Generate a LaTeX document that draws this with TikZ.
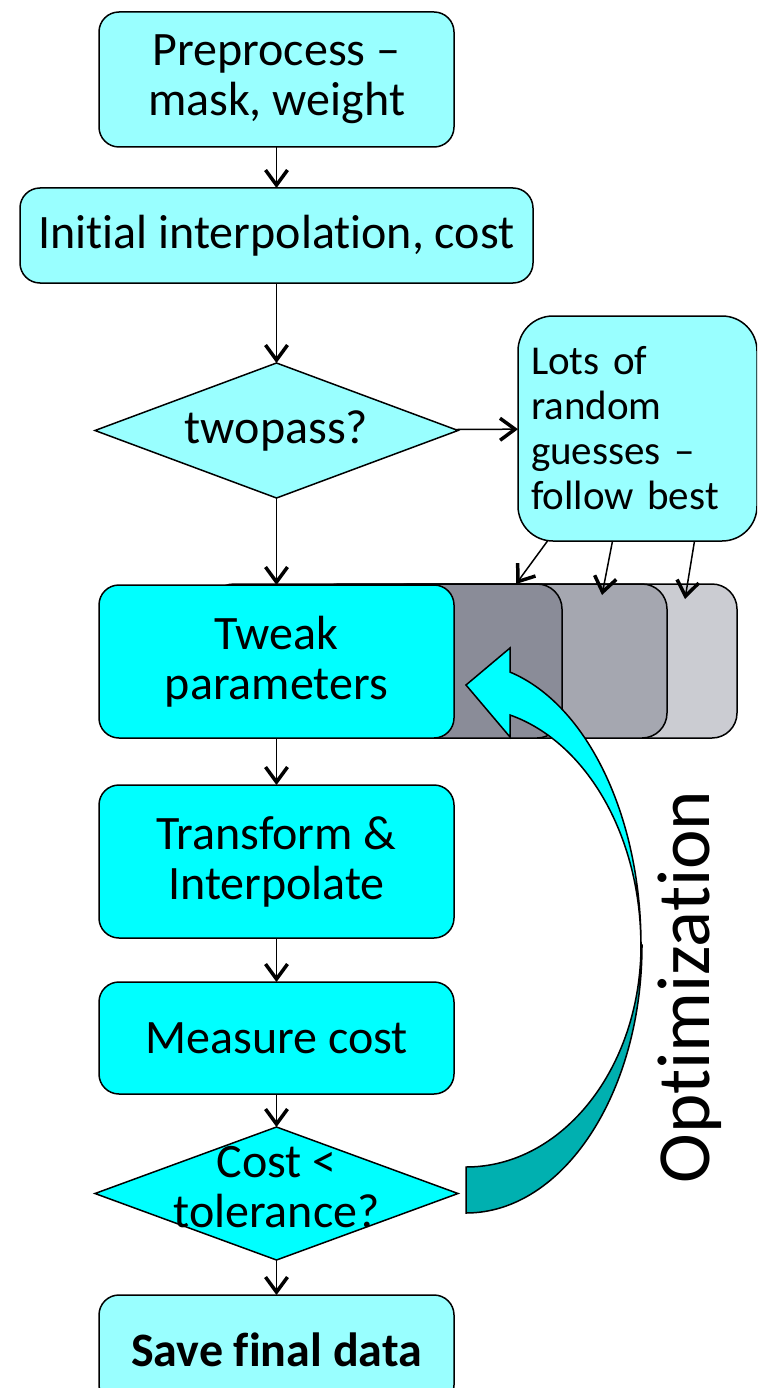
\documentclass[tikz,border=0pt]{standalone}
\usepackage{fontspec}
\setmainfont{Carlito}[Ligatures={TeX,NoCommon}]
\usetikzlibrary{positioning,shapes.geometric,arrows.meta}

\definecolor{pale}{HTML}{99FFFF}
\definecolor{aqua}{HTML}{00FFFF}
\definecolor{deep}{HTML}{00B0B0}
\definecolor{grayA}{HTML}{8A8C98}
\definecolor{grayB}{HTML}{A5A7B0}
\definecolor{grayC}{HTML}{CBCCD2}

\begin{document}
\begin{tikzpicture}[x=1pt, y=-1pt, >={Straight Barb[length=15pt,width=22pt,line width=3.5pt]},
		bx/.style={rectangle, rounded corners=20pt, draw, line width=1.5pt, minimum width=355pt, inner sep=0pt, outer sep=0pt, align=center, font=\fontsize{48}{50}\selectfont},
		dm/.style={diamond, draw, line width=1.5pt, minimum width=363pt, minimum height=135pt, inner sep=0pt, outer sep=0pt, aspect=2.7, font=\fontsize{48}{50}\selectfont},
		gr/.style={rectangle, rounded corners=25pt, draw, line width=1.5pt, minimum width=353pt, minimum height=154pt, outer sep=0pt}]
		\useasboundingbox (0,0) rectangle (757,1388);
		\clip (0,0) rectangle (757,1388);

		% shadow copies behind the tweak box
		\node[gr, fill=grayC] (g3) at (560.5,661) {};
		\node[gr, fill=grayB] (g2) at (490.5,661) {};
		\node[gr, fill=grayA] (g1) at (385.5,661) {};

		\node[bx, fill=pale, minimum height=135pt] (pre) at (276.5,79.5) {Preprocess –\\mask, weight};
		\node[bx, fill=pale, minimum width=513pt, minimum height=95pt, below=41pt of pre] (init) {Initial interpolation, cost};
		\node[dm, fill=pale, below=80pt of init] (two) {twopass?};
		\node[bx, fill=pale, rounded corners=35pt, minimum width=239pt, minimum height=225pt, text width=213pt, align=left, font=\fontsize{41}{45}\selectfont] (lots) at (637.5,428.5) {Lots of\\random\\guesses –\\follow best};
		\node[bx, fill=aqua, minimum height=153pt, below=87pt of two] (tweak) {Tweak\\parameters};
		\node[bx, fill=aqua, minimum height=153pt, below=47pt of tweak] (trans) {Transform \&\\Interpolate};
		\node[bx, fill=aqua, minimum height=112pt, below=44pt of trans] (meas) {Measure cost};
		\node[dm, fill=aqua, minimum height=133pt, below=33pt of meas, label={[align=center, font=\fontsize{48}{50}\selectfont, yshift=6pt]center:Cost <\\tolerance?}] (cost) {};
		\node[bx, fill=pale, minimum height=110pt, below=35pt of cost, font=\fontsize{48}{50}\selectfont\bfseries] (save) {Save final data};

		\path[->, line width=1.5pt] (pre) edge (init);
		\path[->, line width=1.5pt] (init) edge (two);
		\path[->, line width=1.5pt] (two) edge (lots);
		\path[->, line width=1.5pt] (two) edge (tweak);
		\path[->, line width=1.5pt] (tweak) edge (trans);
		\path[->, line width=1.5pt] (trans) edge (meas);
		\path[->, line width=1.5pt] (meas) edge (cost);
		\path[->, line width=1.5pt] (cost) edge (save);

		\draw[->, line width=1.5pt] ([xshift=-90pt]lots.south) -- ([xshift=130.5pt]g1.north);
		\draw[->, line width=1.5pt] ([xshift=-25pt]lots.south) -- ([xshift=111.5pt, yshift=-11pt]g2.north);
		\draw[->, line width=1.5pt] ([xshift=57pt]lots.south) -- ([xshift=124.5pt, yshift=-15pt]g3.north);

		% twisted loop arrow back to the tweak box
		\draw[fill=deep, line width=1.5pt] (641,945) arc[start angle=0, end angle=90, x radius=175, y radius=222] -- (466,1213) arc[start angle=90, end angle=0, x radius=176, y radius=268] -- cycle;
		\draw[fill=aqua, line width=1.5pt, line join=miter] (641,945) arc[start angle=0, end angle=-75.4, x radius=175, y radius=282] -- (510,648) -- (466,685) -- (510,737) -- (510,715) arc[start angle=-75.4, end angle=0, x radius=175, y radius=238] -- cycle;

		\node[rotate=90, anchor=base, font=\fontsize{75}{80}\selectfont] (opt) at (709,987) {Optimization};
	\end{tikzpicture}
\end{document}
